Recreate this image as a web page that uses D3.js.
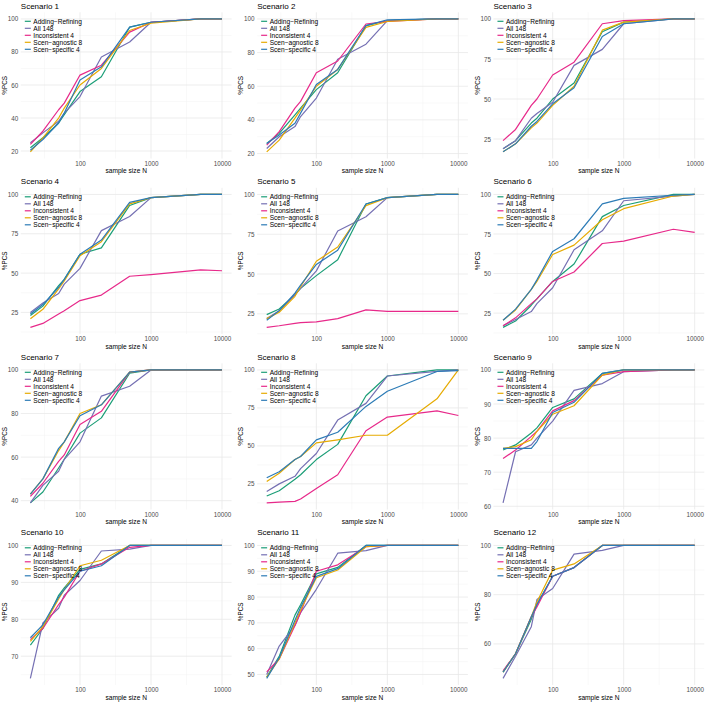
<!DOCTYPE html>
<html>
<head>
<meta charset="utf-8">
<script src="https://cdn.jsdelivr.net/npm/d3@7"></script>
<style>
  html, body { margin: 0; padding: 0; background: #fff; overflow: hidden; }
  svg { display: block; }
  text { font-family: "Liberation Sans", Arial, sans-serif; }
</style>
</head>
<body>
<svg width="709" height="702"></svg>
<script>
const svg = d3.select("svg");
const width = +svg.attr("width");
const height = +svg.attr("height");

// sample sizes on the x axis
const sampleSizes = [20, 30, 50, 60, 100, 200, 500, 1000, 5000, 10000];
const methods = ["Adding\u2212Refining", "All 148", "Inconsistent 4", "Scen\u2212agnostic 8", "Scen\u2212specific 4"];
const colors = ["#1B9E77", "#7570B3", "#E7298A", "#E6AB02", "#2C7BB6"];
const xTicks = [100, 1000, 10000];

// %PCS per scenario, one row per method (same order as methods)
const scenario1 = [
    [22, 28, 37, 42, 56, 65, 95, 98, 100, 100],
    [25, 31, 38, 43, 53, 77, 86, 98, 100, 100],
    [24, 32, 45, 49, 66, 72, 92, 98, 100, 100],
    [19.5, 28, 40, 46, 60, 70, 93, 97.5, 100, 100],
    [20.5, 27, 37, 43, 63, 71, 95, 98, 100, 100]
];
const scenario2 = [
    [26, 32, 43, 47, 58, 68, 96, 99, 100, 100],
    [23, 30, 36, 42, 53, 76, 85, 99, 100, 100],
    [25, 33, 47, 51, 68, 75, 97, 98.5, 100, 100],
    [21, 28, 41, 46, 60, 70, 95, 98.5, 100, 100],
    [26, 31, 38, 44, 61, 70, 96, 99.5, 100, 100]
];
const scenario3 = [
    [19, 24, 35, 38, 50, 60, 92, 98, 100, 100],
    [19, 24, 38, 41, 48, 71, 81, 97, 100, 100],
    [24, 31, 46, 50, 65, 73, 97, 99, 100, 100],
    [17, 22, 32, 35, 46, 58, 93, 98, 100, 100],
    [17, 22, 33, 36, 47, 57, 89, 97, 100, 100]
];
const scenario4 = [
    [23, 29, 42, 46, 62, 66, 93, 98, 100, 100],
    [25, 31, 37, 43, 53, 77, 86, 98, 100, 100],
    [15.5, 18, 24, 26, 32.5, 36, 48, 49, 52, 51.5],
    [21, 27, 40, 45, 61, 70, 94, 98, 100, 100],
    [24, 30, 41, 46, 62, 71, 95, 98, 100, 100]
];
const scenario5 = [
    [24.5, 28, 37, 41, 49, 59, 94, 98, 100, 100],
    [22, 27, 37, 41, 52, 77, 86, 98, 100, 100],
    [16.5, 17.5, 19, 19.5, 20, 22, 27.5, 26.5, 26.5, 26.5],
    [22, 26, 36, 42, 58, 67, 93, 98, 100, 100],
    [21, 27, 38, 43, 56, 65, 94, 98, 100, 100]
];
const scenario6 = [
    [16, 20, 30, 34, 45, 56, 86, 93, 100, 100],
    [17, 21, 26, 31, 41, 65, 77, 96, 99, 100],
    [17, 22, 31, 34, 45, 51, 69, 70.5, 78, 76],
    [20.5, 27, 40, 45, 62, 68, 84, 91, 99, 100],
    [20.5, 27.5, 40, 46, 64, 72, 94, 97.5, 99.5, 100]
];
const scenario7 = [
    [39, 44, 55, 59, 71, 78, 98.5, 100, 100, 100],
    [39, 47, 53.5, 59, 67, 88, 92.5, 100, 100, 100],
    [42, 48, 58, 61, 75, 81, 99, 100, 100, 100],
    [43, 50, 63, 67, 80, 84, 99, 100, 100, 100],
    [43, 50, 64, 67, 79, 84, 99, 100, 100, 100]
];
const scenario8 = [
    [17, 20.5, 28, 31, 41, 51, 83, 96, 100, 100],
    [20, 25, 30, 35, 45, 67, 78, 96, 99, 100],
    [12.5, 13, 13.5, 15, 22, 31, 60, 69, 73, 70],
    [26.5, 32, 41, 43, 52, 54, 57, 57, 81, 100],
    [29, 33, 41, 43, 54, 59, 76, 86, 99, 99.5]
];
const scenario9 = [
    [76.5, 78, 81.5, 83, 89, 91.5, 99, 100, 100, 100],
    [61, 76, 78, 80, 85, 94, 96, 99.5, 100, 100],
    [74, 76.5, 80.5, 82, 88, 91, 98.5, 99.5, 100, 100],
    [77, 77.5, 79.5, 82, 87, 89.5, 98.5, 100, 100, 100],
    [77, 77, 77, 79, 87.5, 90.5, 99, 100, 100, 100]
];
const scenario10 = [
    [73, 77.5, 86.5, 88.5, 93.5, 95, 100, 100, 100, 100],
    [64, 79, 83, 86.5, 90.5, 98.5, 99, 100, 100, 100],
    [74.5, 77.5, 84, 86, 93, 95, 99.5, 100, 100, 100],
    [74, 78, 85.5, 88, 94.5, 96, 100, 100, 100, 100],
    [75, 78.5, 86, 88, 93, 94.5, 100, 100, 100, 100]
];
const scenario11 = [
    [49, 57, 73, 77, 89, 91.5, 100, 100, 100, 100],
    [50, 61, 69, 74, 83, 97, 98, 100, 100, 100],
    [51, 56, 69, 74, 90, 92.5, 99.5, 100, 100, 100],
    [49, 56, 70, 75, 87.5, 90.5, 99.5, 100, 100, 100],
    [48.5, 56.5, 71, 76, 88, 91, 100, 100, 100, 100]
];
const scenario12 = [
    [48.5, 56, 70, 76, 87.5, 91, 100, 100, 100, 100],
    [46, 55, 67, 78, 82.5, 96.5, 98, 100, 100, 100],
    [49, 56, 71, 75, 87.5, 91, 100, 100, 100, 100],
    [48.5, 56, 71, 77, 90, 92.5, 100, 100, 100, 100],
    [48.5, 56, 71, 76, 87.5, 91, 100, 100, 100, 100]
];

const scenarios = [scenario1, scenario2, scenario3, scenario4, scenario5, scenario6,
    scenario7, scenario8, scenario9, scenario10, scenario11, scenario12];

// y tick labels per scenario
const yTicks = [
    [20, 40, 60, 80, 100], [20, 40, 60, 80, 100], [25, 50, 75, 100],
    [25, 50, 75, 100], [25, 50, 75, 100], [25, 50, 75, 100],
    [40, 60, 80, 100], [25, 50, 75, 100], [60, 70, 80, 90, 100],
    [70, 80, 90, 100], [50, 60, 70, 80, 90, 100], [60, 80, 100]
];

const panelW = width / 3;
const panelH = height / 4;
const margin = { top: 12.3, right: panelW - 231.6, bottom: panelH - 158.5, left: 20.8 };
const innerWidth = panelW - margin.left - margin.right;
const innerHeight = panelH - margin.top - margin.bottom;

// log x with ggplot-like 5% expansion
const lx0 = Math.log10(20), lx1 = Math.log10(10000);
const lpad = (lx1 - lx0) * 0.05;
const xScale = d3.scaleLog()
    .domain([Math.pow(10, lx0 - lpad), Math.pow(10, lx1 + lpad)])
    .range([0, innerWidth]);
const xMinor = [Math.pow(10, 1.5), Math.pow(10, 2.5), Math.pow(10, 3.5)];

scenarios.forEach((series, si) => {
    const col = si % 3;
    const row = Math.floor(si / 3);
    const panel = svg.append("g")
        .attr("transform", `translate(${col * panelW}, ${row * panelH})`);
    const g = panel.append("g")
        .attr("transform", `translate(${margin.left}, ${margin.top})`);

    const ymin = d3.min(series, s => d3.min(s));
    const ymax = d3.max(series, s => d3.max(s));
    const ypad = (ymax - ymin) * 0.05;
    const yScale = d3.scaleLinear()
        .domain([ymin - ypad, ymax + ypad])
        .range([innerHeight, 0]);

    const ticks = yTicks[si];
    const step = ticks[1] - ticks[0];
    const yMinor = [];
    for (let v = ticks[0] - step / 2; v <= ticks[ticks.length - 1] + step / 2; v += step) {
        if (v >= yScale.domain()[0] && v <= yScale.domain()[1]) yMinor.push(v);
    }

    // grid
    g.selectAll(".ymin").data(yMinor).enter().append("line")
        .attr("x1", 0).attr("x2", innerWidth)
        .attr("y1", d => yScale(d)).attr("y2", d => yScale(d))
        .attr("stroke", "#f2f2f2").attr("stroke-width", 0.5);
    g.selectAll(".xmin").data(xMinor).enter().append("line")
        .attr("y1", 0).attr("y2", innerHeight)
        .attr("x1", d => xScale(d)).attr("x2", d => xScale(d))
        .attr("stroke", "#f2f2f2").attr("stroke-width", 0.5);
    g.selectAll(".ymaj").data(ticks).enter().append("line")
        .attr("x1", 0).attr("x2", innerWidth)
        .attr("y1", d => yScale(d)).attr("y2", d => yScale(d))
        .attr("stroke", "#e8e8e8").attr("stroke-width", 0.8);
    g.selectAll(".xmaj").data(xTicks).enter().append("line")
        .attr("y1", 0).attr("y2", innerHeight)
        .attr("x1", d => xScale(d)).attr("x2", d => xScale(d))
        .attr("stroke", "#e8e8e8").attr("stroke-width", 0.8);

    // axes (labels only, like theme_minimal)
    const yAxisG = g.append("g")
        .call(d3.axisLeft(yScale).tickValues(ticks).tickSize(0).tickPadding(2.5));
    yAxisG.select(".domain").remove();
    yAxisG.selectAll("text")
        .attr("fill", "#4d4d4d")
        .style("font-size", "6.3px")
        .style("font-family", "Liberation Sans, Arial, sans-serif");

    const xAxisG = g.append("g")
        .attr("transform", `translate(0, ${innerHeight})`)
        .call(d3.axisBottom(xScale).tickValues(xTicks).tickFormat(d3.format("d")).tickSize(0).tickPadding(3));
    xAxisG.select(".domain").remove();
    xAxisG.selectAll("text")
        .attr("fill", "#4d4d4d")
        .style("font-size", "6.3px")
        .style("font-family", "Liberation Sans, Arial, sans-serif");

    // lines
    const line = d3.line()
        .x((d, i) => xScale(sampleSizes[i]))
        .y(d => yScale(d));
    g.selectAll(".series").data(series).enter().append("path")
        .attr("d", d => line(d))
        .attr("fill", "none")
        .attr("stroke", (d, i) => colors[i])
        .attr("stroke-width", 1.2)
        .attr("stroke-linejoin", "round");

    // titles
    panel.append("text")
        .attr("x", margin.left)
        .attr("y", 8.8)
        .attr("fill", "#000")
        .style("font-size", "8px")
        .text("Scenario  " + (si + 1));

    panel.append("text")
        .attr("x", margin.left + innerWidth / 2)
        .attr("y", 173)
        .attr("text-anchor", "middle")
        .attr("fill", "#000")
        .style("font-size", "6.6px")
        .text("sample size N");

    panel.append("text")
        .attr("transform", `translate(7, ${margin.top + innerHeight / 2}) rotate(-90)`)
        .attr("text-anchor", "middle")
        .attr("fill", "#000")
        .style("font-size", "6.3px")
        .text("%PCS");

    // legend
    const legend = g.append("g").attr("transform", "translate(4, 9)");
    methods.forEach((m, i) => {
        legend.append("line")
            .attr("x1", 0).attr("x2", 6)
            .attr("y1", i * 7).attr("y2", i * 7)
            .attr("stroke", colors[i]).attr("stroke-width", 1.2);
        legend.append("text")
            .attr("x", 8.5).attr("y", i * 7)
            .attr("dy", "0.35em")
            .attr("fill", "#000")
            .style("font-size", "6.6px")
            .text(m);
    });
});
</script>
</body>
</html>
